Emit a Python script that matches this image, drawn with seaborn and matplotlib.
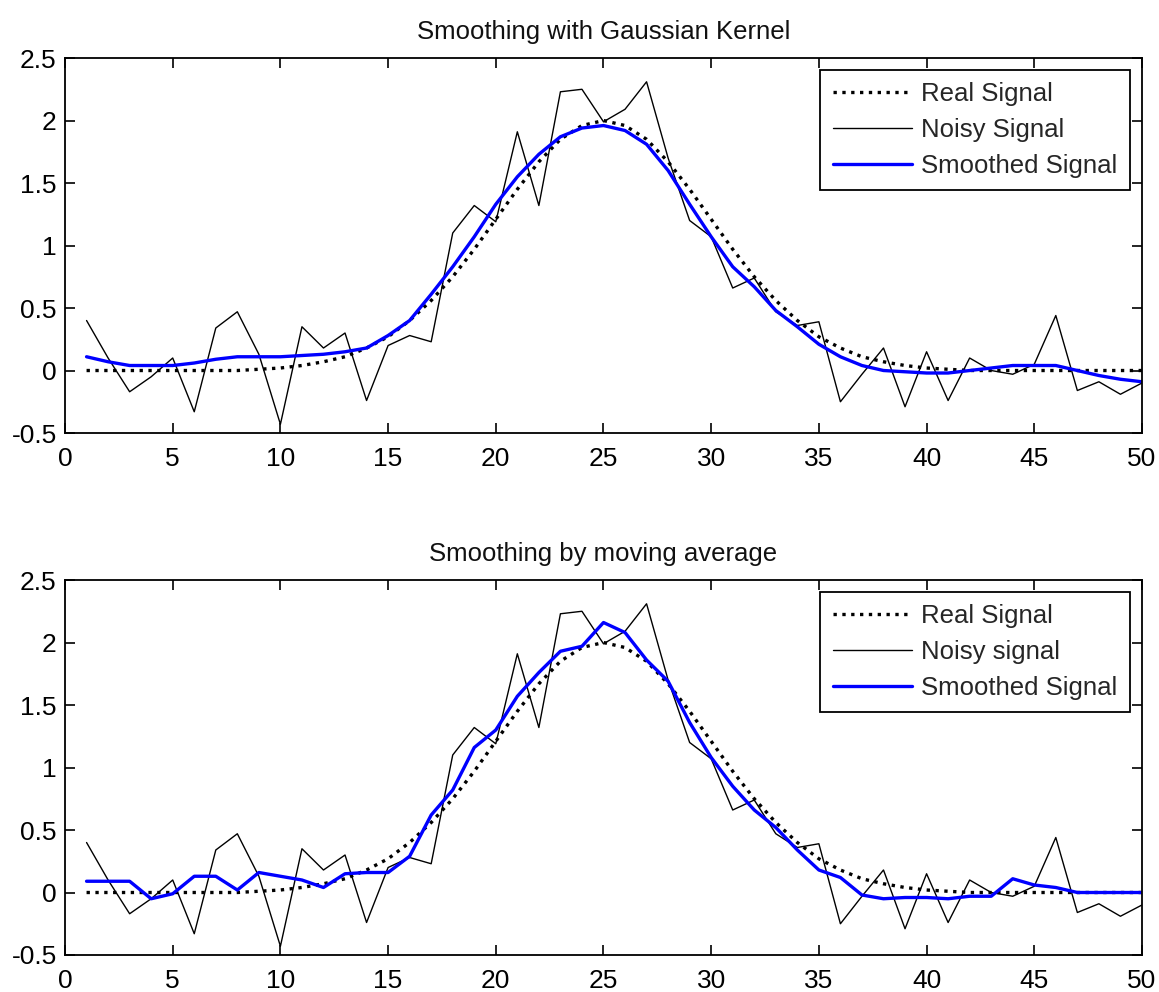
import numpy as np
import pandas as pd
import seaborn as sns
import matplotlib.pyplot as plt

x = list(range(1, 51))

real_signal = [0.00, 0.00, 0.00, 0.00, 0.00, 0.00, 0.00, 0.00, 0.01, 0.02,
               0.04, 0.07, 0.11, 0.18, 0.27, 0.40, 0.56, 0.75, 0.97, 1.21,
               1.45, 1.67, 1.85, 1.96, 2.00, 1.96, 1.85, 1.67, 1.45, 1.21,
               0.97, 0.75, 0.56, 0.40, 0.27, 0.18, 0.11, 0.07, 0.04, 0.02,
               0.01, 0.00, 0.00, 0.00, 0.00, 0.00, 0.00, 0.00, 0.00, 0.00]

noisy_signal = [0.40, 0.10, -0.17, -0.05, 0.10, -0.33, 0.34, 0.47, 0.13, -0.43,
                0.35, 0.18, 0.30, -0.24, 0.20, 0.28, 0.23, 1.10, 1.32, 1.19,
                1.91, 1.32, 2.23, 2.25, 1.99, 2.09, 2.31, 1.70, 1.20, 1.07,
                0.66, 0.74, 0.47, 0.36, 0.39, -0.25, -0.03, 0.18, -0.29, 0.15,
                -0.24, 0.10, 0.00, -0.03, 0.05, 0.44, -0.16, -0.09, -0.19, -0.10]

gauss_smoothed = [0.11, 0.07, 0.04, 0.04, 0.04, 0.06, 0.09, 0.11, 0.11, 0.11,
                  0.12, 0.13, 0.15, 0.18, 0.28, 0.40, 0.61, 0.83, 1.07, 1.33,
                  1.55, 1.73, 1.87, 1.94, 1.96, 1.92, 1.81, 1.60, 1.33, 1.07,
                  0.83, 0.67, 0.48, 0.35, 0.21, 0.11, 0.04, 0.00, -0.01, -0.02,
                  -0.02, 0.00, 0.02, 0.04, 0.04, 0.04, 0.00, -0.04, -0.07, -0.09]

moving_avg = [0.09, 0.09, 0.09, -0.05, -0.01, 0.13, 0.13, 0.02, 0.16, 0.13,
              0.10, 0.04, 0.15, 0.16, 0.16, 0.29, 0.62, 0.82, 1.16, 1.30,
              1.57, 1.76, 1.93, 1.97, 2.16, 2.08, 1.86, 1.69, 1.36, 1.08,
              0.85, 0.66, 0.52, 0.34, 0.18, 0.12, -0.02, -0.05, -0.04, -0.04,
              -0.05, -0.03, -0.03, 0.11, 0.06, 0.04, 0.00, 0.00, 0.00, 0.00]

sns.set_style("ticks")
plt.rcParams['font.family'] = ['Liberation Sans', 'DejaVu Sans']

fig = plt.figure(figsize=(11.59, 9.92), dpi=100)
ax1 = fig.add_axes([0.0561, 0.5635, 0.9292, 0.378])
ax2 = fig.add_axes([0.0561, 0.0373, 0.9292, 0.378])


def draw_panel(ax, smooth, title, noisy_label):
    sns.lineplot(x=x, y=real_signal, ax=ax, color='black', linestyle=':',
                 linewidth=2.4, label='Real Signal')
    sns.lineplot(x=x, y=noisy_signal, ax=ax, color='black', linewidth=1.0,
                 label=noisy_label)
    sns.lineplot(x=x, y=smooth, ax=ax, color='#0000ff', linewidth=2.4,
                 label='Smoothed Signal')
    ax.set_xlim(0, 50)
    ax.set_ylim(-0.5, 2.5)
    ax.set_xticks(range(0, 51, 5))
    ax.set_yticks([-0.5, 0, 0.5, 1, 1.5, 2, 2.5])
    ax.set_yticklabels(['-0.5', '0', '0.5', '1', '1.5', '2', '2.5'])
    ax.tick_params(direction='in', top=True, right=True, length=7,
                   width=1.2, labelsize=19, colors='black')
    ax.tick_params(axis='x', pad=10)
    ax.tick_params(axis='y', pad=6)
    for s in ax.spines.values():
        s.set_visible(True)
        s.set_linewidth(1.3)
        s.set_color('black')
    ax.set_title(title, fontsize=18.5, pad=14, color='#111111')
    leg = ax.legend(loc='upper right', fontsize=18.5, frameon=True,
                    fancybox=False, edgecolor='black', framealpha=1,
                    handlelength=3.1, borderaxespad=0.45, labelspacing=0.45,
                    borderpad=0.5, handletextpad=0.35)
    leg.get_frame().set_linewidth(1.3)


draw_panel(ax1, gauss_smoothed, 'Smoothing with Gaussian Kernel', 'Noisy Signal')
draw_panel(ax2, moving_avg, 'Smoothing by moving average', 'Noisy signal')

fig.savefig('out.png', dpi=100)
